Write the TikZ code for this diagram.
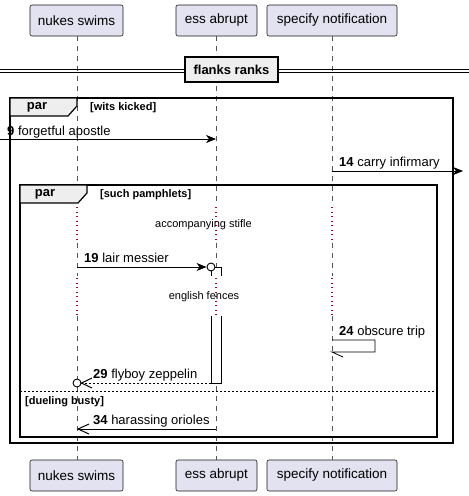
\documentclass[tikz,border=0pt]{standalone}
\usepackage{fontspec}
\setmainfont{Liberation Sans}
\usetikzlibrary{arrows.meta}
\definecolor{partfill}{HTML}{E2E2F0}
\definecolor{partdraw}{HTML}{181818}
\definecolor{tabfill}{HTML}{EEEEEE}
\definecolor{lifecol}{HTML}{555555}
\definecolor{delaycol}{HTML}{A80036}
\tikzset{
  partbox/.style={draw=partdraw, fill=partfill, rounded corners=2pt, minimum height=31pt, inner sep=0pt, line width=0.6pt, font=\fontsize{13.5}{16}\selectfont},
  lifeline/.style={draw=lifecol, line width=0.6pt, dash pattern=on 5pt off 5pt},
  delayline/.style={draw=delaycol, line width=1.2pt, dash pattern=on 1.2pt off 3.3pt},
  frame/.style={draw=black, line width=1.5pt},
  tabbox/.style={draw=black, fill=tabfill, line width=1.2pt},
  msg/.style={draw=black, line width=0.8pt},
  fullhead/.style={-{Stealth[length=10pt,width=8pt,inset=3pt]}},
  msgtxt/.style={font=\fontsize{13}{15}\selectfont, inner sep=0pt, anchor=base west},
  delaytxt/.style={font=\fontsize{11}{13}\selectfont, inner sep=0pt},
  grouptxt/.style={font=\bfseries\fontsize{13}{15}\selectfont, inner sep=0pt},
  guardtxt/.style={font=\bfseries\fontsize{11}{13}\selectfont, inner sep=0pt, anchor=base west},
  actbox/.style={draw=black, fill=white, line width=0.8pt}
}
\begin{document}
\begin{tikzpicture}[x=1pt,y=-1pt]
\useasboundingbox (0,0) rectangle (469,496);
% participants
\node[partbox, minimum width=93pt] (n1) at (76.5,20.5) {nukes swims};
\node[partbox, minimum width=81pt] (e1) at (216.5,20.5) {ess abrupt};
\node[partbox, minimum width=130pt] (s1) at (332,20.5) {specify notification};
\node[partbox, minimum width=93pt] (n2) at (76.5,475.5) {nukes swims};
\node[partbox, minimum width=81pt] (e2) at (216.5,475.5) {ess abrupt};
\node[partbox, minimum width=130pt] (s2) at (332,475.5) {specify notification};
% lifelines with delays
\foreach \x in {77,216,332}{
  \draw[lifeline] (\x,36) -- (\x,205);
  \draw[delayline] (\x,207) -- (\x,242);
  \draw[lifeline] (\x,243) -- (\x,276);
  \draw[delayline] (\x,278) -- (\x,315);
  \draw[lifeline] (\x,316) -- (\x,460);
}
% divider
\draw[line width=0.8pt] (0,69) -- (469,69);
\draw[line width=0.8pt] (0,72.5) -- (469,72.5);
\node[draw=black, fill=tabfill, line width=1.5pt, minimum width=93pt, minimum height=25pt, inner sep=0pt, font=\bfseries\fontsize{13}{15}\selectfont] (div) at (231.5,69.5) {flanks ranks};
% outer par
\draw[frame] (10,98) rectangle (453,443);
\draw[tabbox] (10,98) -- (77,98) -- (77,106) -- (68,116) -- (10,116) -- cycle;
\node[grouptxt] (g1) at (37,107) {par};
\node[guardtxt] (g1g) at (90,110) {[wits kicked]};
% inner par
\draw[frame] (20,185) rectangle (437,437);
\draw[tabbox] (20,185) -- (87,185) -- (87,193) -- (78,203) -- (20,203) -- cycle;
\node[grouptxt] (g2) at (45,194) {par};
\node[guardtxt] (g2g) at (100,197) {[such pamphlets]};
% else separator
\draw[line width=0.8pt, dash pattern=on 2pt off 2pt] (20,391) -- (437,391);
\node[guardtxt] (g3g) at (25,404) {[dueling busty]};
% message 9
\coordinate (m9a) at (0,139);
\coordinate (m9b) at (216,139);
\draw[msg, fullhead] (m9a) -- (m9b);
\node[msgtxt] (t9) at (7,135) {\textbf{9} forgetful apostle};
% message 14
\coordinate (m14a) at (332,171);
\coordinate (m14b) at (463,171);
\draw[msg, fullhead] (m14a) -- (m14b);
\node[msgtxt] (t14) at (339,166) {\textbf{14} carry infirmary};
% delays text
\node[delaytxt] (d1) at (203.5,225) {accompanying stifle};
\node[delaytxt] (d2) at (204,297) {english fences};
% activation on ess
\fill[white] (211,267) rectangle (221,276);
\draw[actbox] (211,276) -- (211,267) -- (221,267) -- (221,276);
\fill[white] (211,316) rectangle (221,383);
\draw[actbox] (211,316) -- (211,383) -- (221,383) -- (221,316);
% message 19
\coordinate (m19a) at (77,267);
\node[draw=black, line width=0.9pt, fill=white, circle, minimum size=8pt, inner sep=0pt] (c19) at (211,267) {};
\draw[msg, fullhead] (m19a) -- (c19.west);
\node[msgtxt] (t19) at (84,262) {\textbf{19} lair messier};
% message 24 self
\coordinate (m24a) at (332,340);
\coordinate (m24b) at (375,340);
\coordinate (m24c) at (375,352);
\coordinate (m24d) at (332,352);
\coordinate (m24e) at (343,357);
\draw[msg] (m24a) -- (m24b) -- (m24c) -- (m24d) -- (m24e);
\node[msgtxt] (t24) at (339,335) {\textbf{24} obscure trip};
% message 29
\node[draw=black, line width=0.9pt, fill=white, circle, minimum size=8pt, inner sep=0pt] (c29) at (77,383) {};
\coordinate (m29a) at (211,383);
\coordinate (m29h1) at (92,378);
\coordinate (m29h2) at (92,388);
\draw[msg, dash pattern=on 2pt off 2pt] (m29a) -- (c29.east);
\draw[msg, line width=1pt] (m29h1) -- (c29.east) -- (m29h2);
\node[msgtxt] (t29) at (93,378) {\textbf{29} flyboy zeppelin};
% message 34
\coordinate (m34a) at (216,429);
\coordinate (m34b) at (78,429);
\coordinate (m34h1) at (89,424);
\coordinate (m34h2) at (89,434);
\draw[msg] (m34a) -- (m34b);
\draw[msg, line width=1pt] (m34h1) -- (m34b) -- (m34h2);
\node[msgtxt] (t34) at (93,424) {\textbf{34} harassing orioles};
\end{tikzpicture}
\end{document}
